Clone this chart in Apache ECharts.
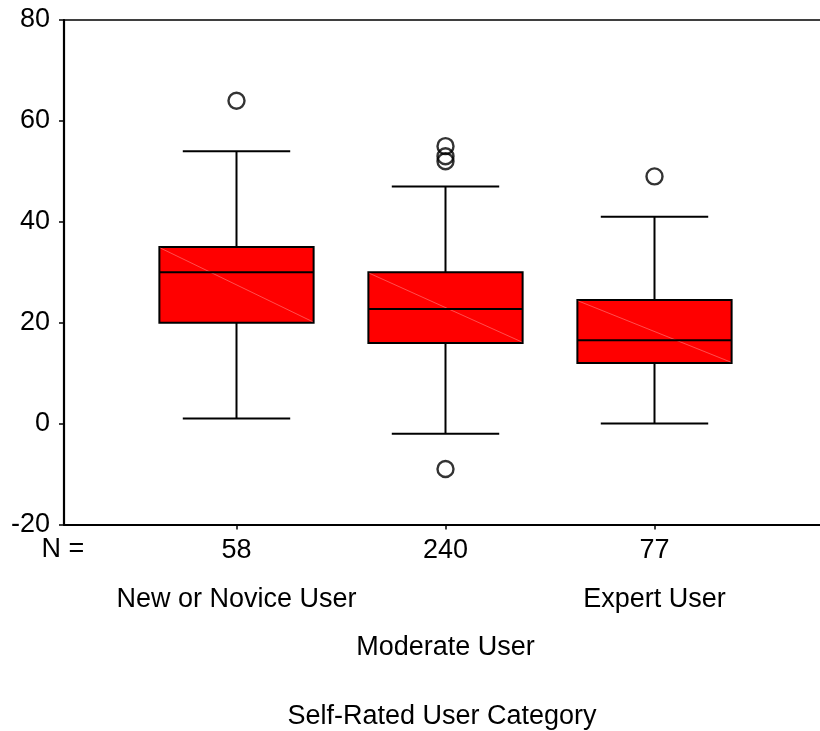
<!DOCTYPE html>
<html>
<head>
<meta charset="utf-8">
<script src="https://cdn.jsdelivr.net/npm/echarts@6/dist/echarts.min.js"></script>
<style>
  html, body { margin: 0; padding: 0; background: #ffffff; }
  #chart { width: 820px; height: 731px; }
</style>
</head>
<body>
<div id="chart"></div>
<script>
// Self-rated user groups and their sample sizes
const categories = ['New or Novice User', 'Moderate User', 'Expert User'];
const counts = ['58', '240', '77'];

// Five-number summaries: lower whisker, Q1, median, Q3, upper whisker
const lowerWhisker = [1, -2, 0];
const q1Values = [20, 16, 12];
const medianValues = [30, 22.7, 16.5];
const q3Values = [35, 30, 24.5];
const upperWhisker = [54, 47, 41];

// Outliers as [group index, value]
const outlierPoints = [
  [0, 64],
  [1, 55], [1, 53], [1, 52], [1, -9],
  [2, 49]
];

// Value axis range and step
const yMin = -20;
const yMax = 80;
const yStep = 20;

const FONT = '"Liberation Sans", Arial, sans-serif';
const FS = 27;

const boxData = categories.map((c, i) => [
  i, lowerWhisker[i], q1Values[i], medianValues[i], q3Values[i], upperWhisker[i]
]);

function renderBox(params, api) {
  const idx = api.value(0);
  const pLo = api.coord([idx, api.value(1)]);
  const pQ1 = api.coord([idx, api.value(2)]);
  const pMed = api.coord([idx, api.value(3)]);
  const pQ3 = api.coord([idx, api.value(4)]);
  const pHi = api.coord([idx, api.value(5)]);
  const band = api.size([1, 0])[0];
  const boxHalf = band * 0.369;
  const capHalf = band * 0.257;
  const x = pLo[0];
  const ink = { stroke: '#000000', lineWidth: 2 };
  return {
    type: 'group',
    children: [
      { type: 'line', shape: { x1: x, y1: pHi[1], x2: x, y2: pQ3[1] }, style: ink },
      { type: 'line', shape: { x1: x, y1: pQ1[1], x2: x, y2: pLo[1] }, style: ink },
      { type: 'line', shape: { x1: x - capHalf, y1: pHi[1], x2: x + capHalf, y2: pHi[1] }, style: ink },
      { type: 'line', shape: { x1: x - capHalf, y1: pLo[1], x2: x + capHalf, y2: pLo[1] }, style: ink },
      {
        type: 'rect',
        shape: { x: x - boxHalf, y: pQ3[1], width: boxHalf * 2, height: pQ1[1] - pQ3[1] },
        style: { fill: '#ff0000', stroke: '#000000', lineWidth: 2 }
      },
      // faint fill seam running corner to corner
      {
        type: 'line',
        shape: { x1: x - boxHalf + 1, y1: pQ3[1] + 1, x2: x + boxHalf - 1, y2: pQ1[1] - 1 },
        style: { stroke: 'rgba(255,160,160,0.7)', lineWidth: 0.7 }
      },
      { type: 'line', shape: { x1: x - boxHalf, y1: pMed[1], x2: x + boxHalf, y2: pMed[1] }, style: ink }
    ]
  };
}

const chart = echarts.init(document.getElementById('chart'), null, { renderer: 'canvas' });

const option = {
  backgroundColor: '#ffffff',
  animation: false,
  textStyle: { fontFamily: FONT, color: '#000000' },
  grid: [
    { left: 64, right: 0, top: 20, bottom: 206.5, containLabel: false, outerBoundsMode: 'none' },
    { left: 132, right: 61, top: 20, bottom: 206.5, containLabel: false, outerBoundsMode: 'none' }
  ],
  xAxis: [
    {
      gridIndex: 0, type: 'value', min: 0, max: 1, position: 'bottom',
      axisLine: { show: true, onZero: false, lineStyle: { color: '#000000', width: 2.2 } },
      axisTick: { show: false }, axisLabel: { show: false }, splitLine: { show: false },
      name: 'Self-Rated User Category', nameLocation: 'middle', nameGap: 179,
      nameTextStyle: { fontFamily: FONT, fontSize: FS, color: '#000000' }
    },
    {
      gridIndex: 0, type: 'value', min: 0, max: 1, position: 'top',
      axisLine: { show: true, onZero: false, lineStyle: { color: '#000000', width: 1.5 } },
      axisTick: { show: false }, axisLabel: { show: false }, splitLine: { show: false }
    },
    {
      gridIndex: 1, type: 'category', data: categories, position: 'bottom',
      axisLine: { show: false, onZero: false },
      axisTick: { show: true, alignWithLabel: true, length: 5, lineStyle: { color: '#000000', width: 1.5 } },
      axisLabel: {
        interval: 0, margin: 13, fontFamily: FONT, fontSize: FS, color: '#000000',
        formatter: (v, i) => counts[i]
      },
      splitLine: { show: false }
    },
    {
      gridIndex: 1, type: 'category', data: categories, position: 'bottom',
      axisLine: { show: false, onZero: false }, axisTick: { show: false },
      axisLabel: {
        interval: 0, margin: 51.5, fontFamily: FONT, fontSize: FS, color: '#000000',
        lineHeight: 48, hideOverlap: false,
        formatter: (v, i) => (i % 2 === 1 ? '\n' + v : v)
      },
      splitLine: { show: false }
    }
  ],
  yAxis: [
    {
      gridIndex: 0, type: 'value', min: yMin, max: yMax, interval: yStep,
      axisLine: { show: true, onZero: false, lineStyle: { color: '#000000', width: 2.2 } },
      axisTick: { show: true, length: 5, lineStyle: { color: '#000000', width: 1.5 } },
      axisLabel: { margin: 14, fontFamily: FONT, fontSize: FS, color: '#000000' },
      splitLine: { show: false }
    },
    {
      gridIndex: 1, type: 'value', min: yMin, max: yMax, interval: yStep,
      show: false, splitLine: { show: false }
    }
  ],
  graphic: [
    {
      type: 'text', x: 63, y: 550,
      style: {
        text: 'N =', fontFamily: FONT, fontSize: FS, fill: '#000000',
        align: 'center', verticalAlign: 'middle'
      }
    }
  ],
  series: [
    {
      type: 'custom', xAxisIndex: 2, yAxisIndex: 1,
      data: boxData,
      encode: { x: 0, y: [1, 2, 3, 4, 5] },
      renderItem: renderBox,
      silent: true
    },
    {
      type: 'scatter', xAxisIndex: 2, yAxisIndex: 1,
      data: outlierPoints,
      symbol: 'circle', symbolSize: 16,
      itemStyle: { color: 'rgba(0,0,0,0)', borderColor: '#000000', borderWidth: 2.4 },
      silent: true
    }
  ]
};

chart.setOption(option);
</script>
</body>
</html>
